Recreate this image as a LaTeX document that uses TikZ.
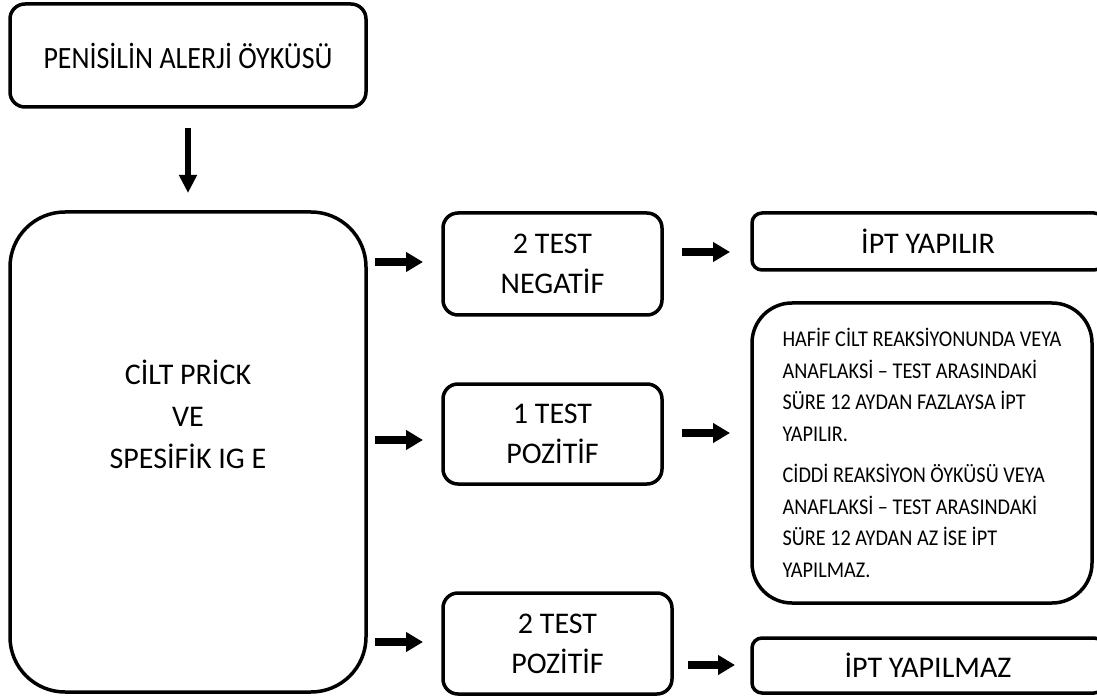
\documentclass[tikz,border=0pt]{standalone}
\usepackage{fontspec}
\setmainfont{Carlito}
\newfontfamily\narrowfont{Carlito}[FakeStretch=0.9]
\usetikzlibrary{arrows.meta}
\tikzset{
  box/.style={draw, line width=3.5pt, rounded corners=15pt, inner sep=0pt, align=center,
    font=\fontsize{30}{40}\selectfont},
  arr/.style={line width=8pt, -{Triangle[width=19pt,length=17pt]}},
}
\begin{document}
\begin{tikzpicture}[x=1pt,y=-1pt]
\useasboundingbox (0,0) rectangle (1097,700);
\clip (0,0) rectangle (1097,700);

\node[box, minimum width=356pt, minimum height=103pt, font=\narrowfont\fontsize{31}{36}\selectfont] (top) at (188,55.5) {PENİSİLİN ALERJİ ÖYKÜSÜ};

\node[box, rounded corners=55pt, minimum width=356pt, minimum height=480pt,
  label={[yshift=38pt, align=center, font=\fontsize{30}{42}\selectfont]center:CİLT PRİCK\\VE\\SPESİFİK IG E}] (big) at (188,452) {};

\node[box, minimum width=219pt, minimum height=102pt] (neg) at (552.5,264) {2 TEST\\NEGATİF};
\node[box, minimum width=219pt, minimum height=100pt] (pos1) at (552.5,434) {1 TEST\\POZİTİF};
\node[box, minimum width=229pt, minimum height=101pt] (pos2) at (557.5,643.5) {2 TEST\\POZİTİF};

\node[box, rounded corners=10pt, minimum width=352pt, minimum height=57pt] (yes) at (928,241.5) {İPT YAPILIR};
\node[box, rounded corners=10pt, minimum width=352pt, minimum height=55pt] (no) at (928,665.5) {İPT YAPILMAZ};

\node[box, rounded corners=40pt, minimum width=340pt, minimum height=300pt, align=left,
  font=\narrowfont\fontsize{22.5}{31.5}\selectfont] (cond) at (922,453)
  {HAFİF CİLT REAKSİYONUNDA VEYA\\ANAFLAKSİ – TEST ARASINDAKİ\\SÜRE 12 AYDAN FAZLAYSA İPT\\YAPILIR.\\[10pt]CİDDİ REAKSİYON ÖYKÜSÜ VEYA\\ANAFLAKSİ – TEST ARASINDAKİ\\SÜRE 12 AYDAN AZ İSE İPT\\YAPILMAZ.};

% arrow end points
\coordinate (d1) at (188,128);
\coordinate (d2) at (188,193);
\coordinate (a1s) at (375,262);  \coordinate (a1e) at (423,262);
\coordinate (a2s) at (375,440);  \coordinate (a2e) at (423,440);
\coordinate (a3s) at (375,642);  \coordinate (a3e) at (423,642);
\coordinate (b1s) at (682,252);  \coordinate (b1e) at (730,252);
\coordinate (b2s) at (682,433);  \coordinate (b2e) at (730,433);
\coordinate (b3s) at (688,665);  \coordinate (b3e) at (735,665);

\draw[line width=6.5pt, -{Triangle[width=17pt,length=18pt]}] (d1) -- (d2);
\draw[arr] (a1s) -- (a1e);
\draw[arr] (a2s) -- (a2e);
\draw[arr] (a3s) -- (a3e);
\draw[arr] (b1s) -- (b1e);
\draw[arr] (b2s) -- (b2e);
\draw[arr] (b3s) -- (b3e);
\end{tikzpicture}
\end{document}
